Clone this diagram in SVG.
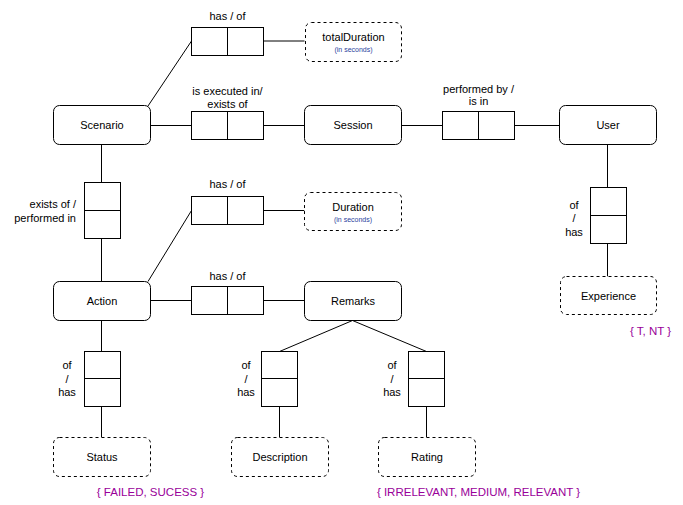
<svg xmlns="http://www.w3.org/2000/svg" width="683" height="505" viewBox="0 0 683 505">
<style>
text{font-family:"Liberation Sans",Arial,sans-serif;font-size:11px;fill:#000;text-anchor:middle}
.node{fill:#fff;stroke:#000;stroke-width:1}
.attr{fill:#fff;stroke:#000;stroke-width:1;stroke-dasharray:3,3}
.rel{fill:#fff;stroke:#000;stroke-width:1}
.small{font-size:7px;fill:#2b3f9e}
.enum{fill:#990099;font-size:11.5px}
#connectors line,#connectors polyline{stroke:#000;stroke-width:1;fill:none}
</style>
<rect width="683" height="505" fill="#fff"/>
<g id="connectors">
<line x1="148" y1="106" x2="191.5" y2="41"/>
<line x1="263.5" y1="41" x2="304.5" y2="41"/>
<line x1="150" y1="125.5" x2="191.5" y2="125.5"/>
<line x1="263.5" y1="125.5" x2="304.5" y2="125.5"/>
<line x1="401.5" y1="125.5" x2="442.5" y2="125.5"/>
<line x1="514.5" y1="125.5" x2="559.5" y2="125.5"/>
<line x1="607.5" y1="144.5" x2="607.5" y2="187.5"/>
<line x1="607.5" y1="243.5" x2="607.5" y2="276.5"/>
<line x1="101.5" y1="144.5" x2="101.5" y2="182.5"/>
<line x1="101.5" y1="238.5" x2="101.5" y2="281.5"/>
<line x1="148" y1="281.5" x2="191.5" y2="210.5"/>
<line x1="263.5" y1="210.5" x2="304.5" y2="210.5"/>
<line x1="150" y1="300.5" x2="191.5" y2="300.5"/>
<line x1="263.5" y1="300.5" x2="304.5" y2="300.5"/>
<line x1="101.5" y1="320.5" x2="101.5" y2="351.5"/>
<line x1="101.5" y1="406.5" x2="101.5" y2="437.5"/>
<polyline points="279.5,351.5 352.5,320.5 426.5,351.5"/>
<line x1="279.5" y1="406.5" x2="279.5" y2="437.5"/>
<line x1="426.5" y1="406.5" x2="426.5" y2="437.5"/>
</g>
<g id="rel-scenario-total">
<text x="227.5" y="20">has / of</text>
<rect class="rel" x="191.5" y="27.5" width="72" height="28"/>
<line x1="227.5" y1="27.5" x2="227.5" y2="55.5" stroke="#000"/>
</g>
<g id="totalDuration">
<rect class="attr" x="305.5" y="22.5" width="96" height="39" rx="6"/>
<text x="353.5" y="40.5">totalDuration</text>
<text class="small" x="353.5" y="51.5">(in seconds)</text>
</g>
<g id="Scenario">
<rect class="node" x="53.5" y="105.5" width="97" height="39" rx="6"/>
<text x="102" y="129">Scenario</text>
</g>
<g id="rel-scenario-session">
<text x="227.5" y="95">is executed in/</text>
<text x="227.5" y="108">exists of</text>
<rect class="rel" x="191.5" y="111.5" width="72" height="28"/>
<line x1="227.5" y1="111.5" x2="227.5" y2="139.5" stroke="#000"/>
</g>
<g id="Session">
<rect class="node" x="304.5" y="105.5" width="97" height="39" rx="6"/>
<text x="353" y="129">Session</text>
</g>
<g id="rel-session-user">
<text x="478.5" y="93">performed by /</text>
<text x="478.5" y="105">is in</text>
<rect class="rel" x="442.5" y="111.5" width="72" height="28"/>
<line x1="478.5" y1="111.5" x2="478.5" y2="139.5" stroke="#000"/>
</g>
<g id="User">
<rect class="node" x="559.5" y="105.5" width="97" height="39" rx="6"/>
<text x="608" y="129">User</text>
</g>
<g id="rel-user-experience">
<rect class="rel" x="590.5" y="187.5" width="36" height="56"/>
<line x1="590.5" y1="215.5" x2="626.5" y2="215.5" stroke="#000"/>
<text x="574" y="209">of</text>
<text x="574" y="222">/</text>
<text x="574" y="235.5">has</text>
</g>
<g id="Experience">
<rect class="attr" x="560.5" y="276.5" width="96" height="38" rx="6"/>
<text x="608.5" y="299.5">Experience</text>
<text class="enum" x="650.5" y="335">{ T, NT }</text>
</g>
<g id="rel-scenario-action">
<rect class="rel" x="84.5" y="182.5" width="36" height="56"/>
<line x1="84.5" y1="210.5" x2="120.5" y2="210.5" stroke="#000"/>
<text x="76" y="208" style="text-anchor:end">exists of /</text>
<text x="76" y="221.5" style="text-anchor:end">performed in</text>
</g>
<g id="rel-action-duration">
<text x="227.5" y="187.5">has / of</text>
<rect class="rel" x="191.5" y="196.5" width="72" height="28"/>
<line x1="227.5" y1="196.5" x2="227.5" y2="224.5" stroke="#000"/>
</g>
<g id="Duration">
<rect class="attr" x="304.5" y="192.5" width="97" height="38" rx="6"/>
<text x="353" y="210.5">Duration</text>
<text class="small" x="353" y="221.5">(in seconds)</text>
</g>
<g id="Action">
<rect class="node" x="53.5" y="281.5" width="97" height="39" rx="6"/>
<text x="102" y="305">Action</text>
</g>
<g id="rel-action-remarks">
<text x="227.5" y="279.5">has / of</text>
<rect class="rel" x="191.5" y="286.5" width="72" height="28"/>
<line x1="227.5" y1="286.5" x2="227.5" y2="314.5" stroke="#000"/>
</g>
<g id="Remarks">
<rect class="node" x="304.5" y="281.5" width="97" height="39" rx="6"/>
<text x="353" y="305">Remarks</text>
</g>
<g id="rel-action-status">
<rect class="rel" x="84.5" y="351.5" width="36" height="55"/>
<line x1="84.5" y1="378.5" x2="120.5" y2="378.5" stroke="#000"/>
<text x="67" y="369">of</text>
<text x="67" y="383">/</text>
<text x="67" y="396">has</text>
</g>
<g id="Status">
<rect class="attr" x="53.5" y="437.5" width="97" height="39" rx="6"/>
<text x="102" y="461">Status</text>
<text class="enum" x="150.5" y="496">{ FAILED, SUCESS }</text>
</g>
<g id="rel-remarks-description">
<rect class="rel" x="261.5" y="351.5" width="36" height="55"/>
<line x1="261.5" y1="378.5" x2="297.5" y2="378.5" stroke="#000"/>
<text x="246" y="369">of</text>
<text x="246" y="383">/</text>
<text x="246" y="396">has</text>
</g>
<g id="Description">
<rect class="attr" x="231.5" y="437.5" width="97" height="39" rx="6"/>
<text x="280" y="461">Description</text>
</g>
<g id="rel-remarks-rating">
<rect class="rel" x="408.5" y="351.5" width="36" height="55"/>
<line x1="408.5" y1="378.5" x2="444.5" y2="378.5" stroke="#000"/>
<text x="392" y="369">of</text>
<text x="392" y="383">/</text>
<text x="392" y="396">has</text>
</g>
<g id="Rating">
<rect class="attr" x="378.5" y="437.5" width="97" height="39" rx="6"/>
<text x="427" y="461">Rating</text>
<text class="enum" x="478.5" y="496">{ IRRELEVANT, MEDIUM, RELEVANT }</text>
</g>
</svg>
